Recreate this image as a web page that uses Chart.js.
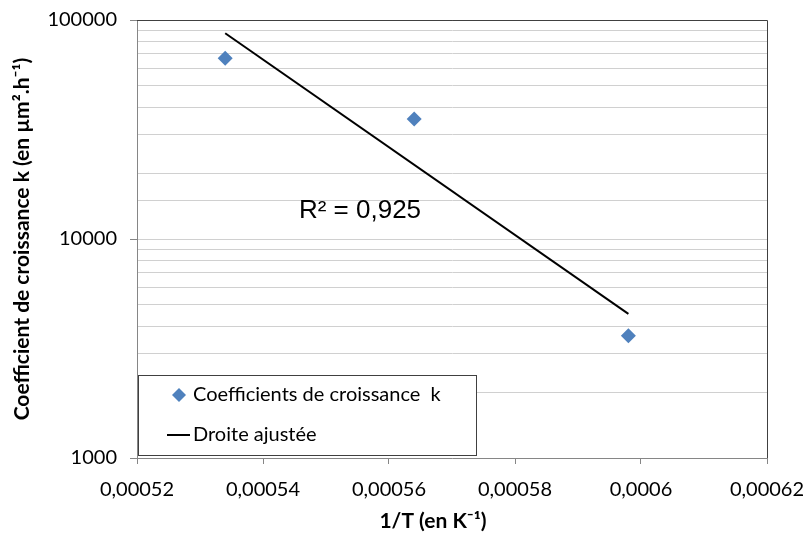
<!DOCTYPE html>
<html lang="fr">
<head>
<meta charset="utf-8">
<title>Coefficient de croissance k</title>
<script src="https://cdn.jsdelivr.net/npm/chart.js@4.4.1/dist/chart.umd.min.js"></script>
<style>
  html, body { margin: 0; padding: 0; background: #fff; }
  #wrap { width: 808px; height: 536px; position: relative; }
</style>
</head>
<body>
<div id="wrap"><canvas id="c"></canvas></div>
<script>
// measured points (1/T, k)
const invT = [0.000534, 0.000564, 0.000598];
const kVals = [66800, 35300, 3620];
// fitted line end points
const fitX = [0.000534, 0.000598];
const fitY = [87000, 4550];
const xTickMin = 0.00052, xTickMax = 0.00062, xTickStep = 0.00002;
const yMin = 1000, yMax = 100000;
const r2Text = 'R² = 0,925';
const r2At = { x: 0.0005554, y: 13400 };

const TICK_FONT = { family: 'Lato', size: 20 };
const GREY = '#868686';
const DARK = '#404040';

const isPow10 = (v) => Math.abs(Math.log10(v) - Math.round(Math.log10(v))) < 1e-9;
const frNum = (v) => parseFloat(v.toFixed(6)).toString().replace('.', ',');
const noPad = (s) => { s.paddingLeft = s.paddingRight = s.paddingTop = s.paddingBottom = 0; };

// frame (top/right), R² label, x title and boxed legend inside the plot
const extras = {
  id: 'extras',
  afterDraw(chart) {
    const { ctx, chartArea: a, scales } = chart;
    ctx.save();
    ctx.strokeStyle = DARK;
    ctx.lineWidth = 1;
    ctx.beginPath();
    ctx.moveTo(a.left, a.top + 0.5);
    ctx.lineTo(a.right + 0.5, a.top + 0.5);
    ctx.lineTo(a.right + 0.5, a.bottom);
    ctx.stroke();

    // R²
    ctx.fillStyle = '#000';
    ctx.font = '26px "Liberation Sans", Arial, sans-serif';
    ctx.textAlign = 'center';
    ctx.textBaseline = 'middle';
    ctx.fillText(r2Text, scales.x.getPixelForValue(r2At.x), scales.y.getPixelForValue(r2At.y));

    // x title
    ctx.font = 'bold 21px Lato, sans-serif';
    ctx.fillText('1/T (en K⁻¹)', 433, 521);

    // legend box
    const bx = a.left + 1, by = 375, bw = 338, bh = 80;
    ctx.fillStyle = '#fff';
    ctx.fillRect(bx, by, bw, bh);
    ctx.strokeStyle = DARK;
    ctx.strokeRect(bx + 0.5, by + 0.5, bw, bh);

    const ds = chart.data.datasets;
    ctx.font = '20px Lato, sans-serif';
    ctx.textAlign = 'left';
    // marker item
    const y1 = by + 20;
    ctx.fillStyle = ds[0].backgroundColor;
    ctx.beginPath();
    ctx.moveTo(179, y1 - 7);
    ctx.lineTo(186, y1);
    ctx.lineTo(179, y1 + 7);
    ctx.lineTo(172, y1);
    ctx.closePath();
    ctx.fill();
    ctx.fillStyle = '#000';
    ctx.fillText(ds[0].label, 193, y1);
    // line item
    const y2 = by + 60;
    ctx.strokeStyle = ds[1].borderColor;
    ctx.lineWidth = 2;
    ctx.beginPath();
    ctx.moveTo(167, y2);
    ctx.lineTo(190, y2);
    ctx.stroke();
    ctx.fillText(ds[1].label, 193, y2);
    ctx.restore();
  }
};

new Chart(document.getElementById('c'), {
  type: 'scatter',
  data: {
    datasets: [
      {
        label: 'Coefficients de croissance  k',
        data: invT.map((x, i) => ({ x, y: kVals[i] })),
        backgroundColor: '#4f81bd',
        borderColor: '#4f81bd',
        pointStyle: 'rectRot',
        pointRadius: 7.5,
        borderWidth: 0,
        showLine: false,
      },
      {
        label: 'Droite ajustée',
        data: fitX.map((x, i) => ({ x, y: fitY[i] })),
        borderColor: '#000',
        borderWidth: 2,
        pointRadius: 0,
        showLine: true,
        fill: false,
      },
    ],
  },
  options: {
    responsive: true,
    maintainAspectRatio: false,
    animation: false,
    layout: { padding: { top: 20, right: 41, left: 0, bottom: 0 } },
    plugins: { legend: { display: false }, tooltip: { enabled: false } },
    scales: {
      x: {
        type: 'linear',
        min: xTickMin,
        max: xTickMax,
        afterFit: (s) => { s.height = 78; noPad(s); },
        border: { color: GREY },
        grid: { drawOnChartArea: false, drawTicks: true, tickLength: 6, color: GREY },
        ticks: {
          stepSize: xTickStep,
          color: '#000',
          font: TICK_FONT,
          padding: 14,
          maxRotation: 0,
          autoSkip: false,
          callback: (v) => frNum(v),
        },
      },
      y: {
        type: 'logarithmic',
        min: yMin,
        max: yMax,
        afterFit: (s) => { s.width = 137; noPad(s); },
        border: { color: GREY },
        grid: {
          color: (c) => (c.tick && c.tick.value >= yMax ? DARK : '#d0d0d0'),
          tickLength: 7,
          tickColor: (c) => (c.tick && isPow10(c.tick.value) ? GREY : 'rgba(0,0,0,0)'),
        },
        ticks: {
          color: '#000',
          font: TICK_FONT,
          padding: 13,
          autoSkip: false,
          callback: (v) => (isPow10(v) ? String(v) : ''),
        },
        title: {
          display: true,
          text: 'Coefficient de croissance k (en µm².h⁻¹)',
          color: '#000',
          font: { family: 'Lato', size: 21, weight: 'bold' },
          padding: { top: 10, bottom: 0 },
        },
      },
    },
  },
  plugins: [extras],
});
</script>
</body>
</html>
